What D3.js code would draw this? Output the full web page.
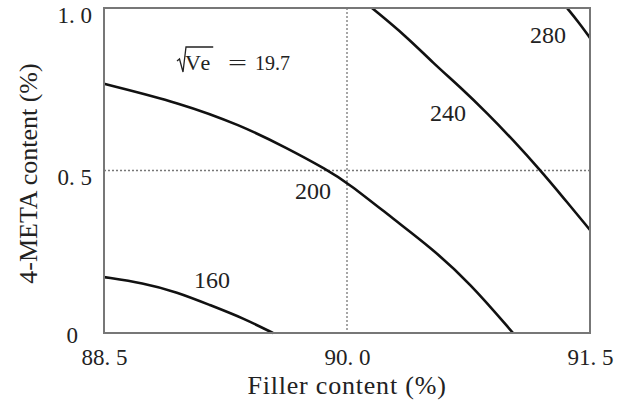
<!DOCTYPE html>
<html>
<head>
<meta charset="utf-8">
<script src="https://cdn.jsdelivr.net/npm/d3@7"></script>
<style>
  html, body { margin: 0; padding: 0; background: #fff; }
  svg { display: block; }
  text { font-family: "Liberation Serif", "DejaVu Serif", serif; fill: #222; }
</style>
</head>
<body>
<svg id="chart" width="626" height="410"></svg>
<script>
// contour lines: [filler %, 4-META %]
const contour160 = [[88.5, 0.172], [88.741, 0.154], [88.951, 0.126], [89.154, 0.086], [89.358, 0.046], [89.543, 0]];
const contour200 = [[88.5, 0.767], [88.969, 0.708], [89.34, 0.64], [89.63, 0.569], [89.877, 0.502], [90.006, 0.462],
  [90.309, 0.342], [90.512, 0.265], [90.759, 0.154], [91.025, 0]];
const contour240 = [[90.154, 1.0], [90.37, 0.911], [90.531, 0.831], [90.698, 0.757], [90.864, 0.677], [91.025, 0.594],
  [91.191, 0.502], [91.333, 0.418], [91.5, 0.317]];
const contour280 = [[91.358, 1.0], [91.43, 0.956], [91.5, 0.908]];

// label positions for each level (data units)
const levels = [160, 200, 240, 280];
const labelPos = [[89.167, 0.163], [89.79, 0.437], [90.623, 0.677], [91.241, 0.917]];

const xTicks = [88.5, 90.0, 91.5];
const yTicks = [0, 0.5, 1.0];
const refX = 90.0, refY = 0.5;
const veText = '19.7';

const margin = { top: 8, right: 36, bottom: 77, left: 104 };
const W = 626, H = 410;
const width = W - margin.left - margin.right;
const height = H - margin.top - margin.bottom;

const svg = d3.select('#chart');
const g = svg.append('g').attr('transform', `translate(${margin.left},${margin.top})`);

const x = d3.scaleLinear().domain([88.5, 91.5]).range([0, width]);
const y = d3.scaleLinear().domain([0, 1.0]).range([height, 0]);

const fmt = d => d === 0 ? '0' : d3.format('.1f')(d).replace('.', '. ');

// reference dotted lines
g.append('line')
  .attr('x1', x(refX)).attr('x2', x(refX))
  .attr('y1', 0).attr('y2', height)
  .attr('stroke', '#777').attr('stroke-width', 1.3).attr('stroke-dasharray', '2,2');
g.append('line')
  .attr('x1', 0).attr('x2', width)
  .attr('y1', y(refY)).attr('y2', y(refY))
  .attr('stroke', '#777').attr('stroke-width', 1.3).attr('stroke-dasharray', '2,2');

// contours
const line = d3.line()
  .x(d => x(d[0]))
  .y(d => y(d[1]))
  .curve(d3.curveBasis);

g.selectAll('.contour')
  .data([contour160, contour200, contour240, contour280])
  .join('path')
  .attr('class', 'contour')
  .attr('d', line)
  .attr('fill', 'none')
  .attr('stroke', '#111')
  .attr('stroke-width', 2.6);

g.selectAll('.level-label')
  .data(levels)
  .join('text')
  .attr('class', 'level-label')
  .attr('x', (d, i) => x(labelPos[i][0]))
  .attr('y', (d, i) => y(labelPos[i][1]))
  .attr('dy', '0.35em')
  .attr('text-anchor', 'middle')
  .attr('font-size', '24px')
  .text(d => d);

// frame
g.append('rect')
  .attr('width', width).attr('height', height)
  .attr('fill', 'none').attr('stroke', '#777').attr('stroke-width', 2);

// axes (no tick marks)
const xAxis = g.append('g')
  .attr('transform', `translate(0,${height})`)
  .call(d3.axisBottom(x).tickValues(xTicks).tickSize(0).tickPadding(16).tickFormat(fmt));
xAxis.select('.domain').remove();
xAxis.selectAll('text')
  .attr('font-family', '"Liberation Serif", serif')
  .attr('font-size', '23px')
  .attr('fill', '#222');

const yAxis = g.append('g')
  .call(d3.axisLeft(y).tickValues(yTicks).tickSize(0).tickPadding(12).tickFormat(fmt));
yAxis.select('.domain').remove();
yAxis.selectAll('text')
  .attr('font-family', '"Liberation Serif", serif')
  .attr('font-size', '23px')
  .attr('fill', '#222')
  .attr('dy', '0.62em')
  .attr('dx', d => d === 0 ? -14 : 0);
yAxis.selectAll('.tick').filter(d => d === 0).select('text').attr('dy', '0.42em');

// axis titles
svg.append('text')
  .attr('x', margin.left + width / 2)
  .attr('y', 394)
  .attr('text-anchor', 'middle')
  .attr('font-size', '26px')
  .attr('letter-spacing', '0.8px')
  .text('Filler content (%)');

svg.append('text')
  .attr('transform', `translate(37,${margin.top + height / 2 + 3}) rotate(-90)`)
  .attr('text-anchor', 'middle')
  .attr('font-size', '26px')
  .text('4-META content (%)');

// sqrt(Ve) = 19.7 annotation, radical sign drawn as a path
const ann = g.append('g').attr('transform', `translate(${177 - margin.left},${70 - margin.top})`);
const ve = ann.append('text').attr('x', 8).attr('y', 0)
  .attr('font-size', '22px').attr('letter-spacing', '2px').text('Ve');
const veW = ve.node().getComputedTextLength();
ann.append('path')
  .attr('d', `M0,-9 L2.5,-11 L6,2 L9,-23 H${8 + veW + 1}`)
  .attr('fill', 'none')
  .attr('stroke', '#222')
  .attr('stroke-width', 1.3)
  .attr('stroke-linejoin', 'miter');
ann.append('text')
  .attr('x', 51).attr('y', 0)
  .attr('font-size', '22px')
  .attr('textLength', 19)
  .attr('lengthAdjust', 'spacingAndGlyphs')
  .text('=');
ann.append('text')
  .attr('x', 78).attr('y', 0)
  .attr('font-size', '20px')
  .text(veText);
</script>
</body>
</html>
